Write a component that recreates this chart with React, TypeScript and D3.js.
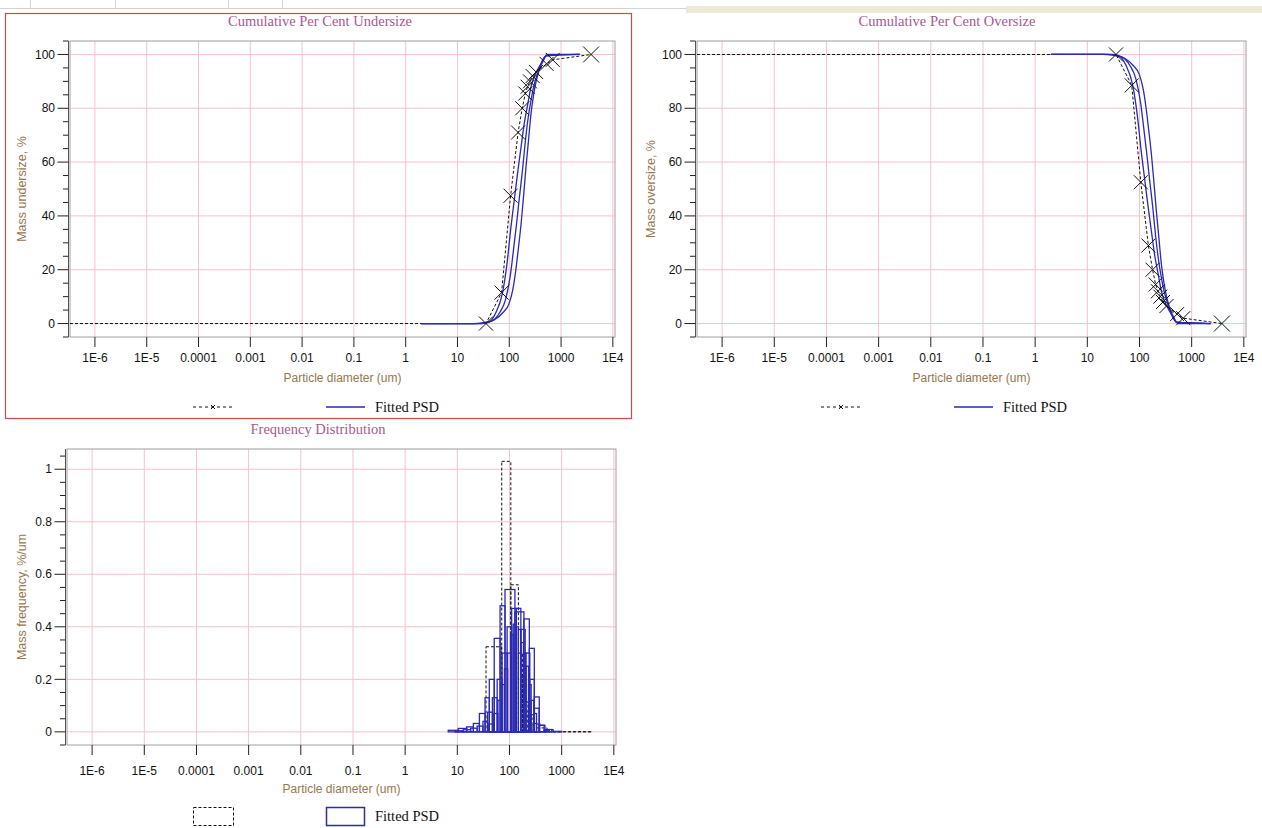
import React from 'react';
import * as d3 from 'd3';

// ---------- axes ----------
const X_DOMAIN = [3.3e-7, 1.1e4];
const X_TICKS = [1e-6, 1e-5, 1e-4, 1e-3, 1e-2, 1e-1, 1, 10, 100, 1000, 1e4];
const X_TICK_LABELS = ['1E-6', '1E-5', '0.0001', '0.001', '0.01', '0.1', '1', '10', '100', '1000', '1E4'];
const CUM_Y_DOMAIN = [-5, 105];
const CUM_Y_TICKS = [0, 20, 40, 60, 80, 100];
const CUM_Y_MINOR = [-5, 5, 10, 15, 25, 30, 35, 45, 50, 55, 65, 70, 75, 85, 90, 95, 105];
const FREQ_Y_DOMAIN = [-0.05, 1.077];
const FREQ_Y_TICKS = [0, 0.2, 0.4, 0.6, 0.8, 1];
const FREQ_Y_LABELS = ['0', '0.2', '0.4', '0.6', '0.8', '1'];
const FREQ_Y_MINOR = [-0.05, 0.05, 0.1, 0.15, 0.25, 0.3, 0.35, 0.45, 0.5, 0.55, 0.65, 0.7, 0.75, 0.85, 0.9, 0.95, 1.05];

// ---------- measured sieve data (um, cumulative % undersize) ----------
const DATA_SIZE = [3.3e-7, 35.5, 71, 106, 148, 178, 204, 226, 251, 282, 329, 525, 690, 3800];
const DATA_UNDERSIZE = [0, 0, 11.5, 47.5, 71, 80, 85.5, 88, 90, 92, 93.5, 96.5, 98, 100];
// data frequency per interval (%/um), between consecutive DATA_SIZE values
const DATA_FREQ = [0, 0.324, 1.03, 0.56, 0.3, 0.21, 0.114, 0.08, 0.065, 0.032, 0.015, 0.009, 0.0006];

// ---------- fitted PSD curves (cumulative % undersize) ----------
const FIT_A_SIZE = [2, 20, 41, 55, 74, 90, 108, 125, 145, 170, 195, 230, 263, 300, 355, 420, 480, 550, 2300];
const FIT_A_U = [0, 0, 0.7, 4, 11.4, 22, 36, 46, 56, 66, 74.5, 82, 88, 91.5, 94.5, 97, 99, 100, 100];
const FIT_B_SIZE = [2, 25, 46, 65, 85, 105, 120, 140, 155, 180, 200, 230, 263, 300, 340, 400, 450, 520, 2300];
const FIT_B_U = [0, 0, 1, 4, 9, 18, 27, 38, 46, 57, 66, 76, 83, 88.5, 92, 95.5, 97.5, 99.5, 100];
const FIT_C_SIZE = [2, 30, 51, 75, 100, 118, 134, 150, 169, 190, 210, 235, 263, 295, 330, 370, 410, 460, 510, 2300];
const FIT_C_U = [0, 0, 1.3, 4, 7.6, 13, 20, 28, 37, 48, 58, 68, 78, 85, 90, 93.5, 96.5, 98.5, 99.5, 100];

// ---------- fitted frequency histograms (%/um) ----------
const HIST_A_EDGES = [6.7, 10.4, 15.1, 20.3, 26.5, 34, 41, 51, 66, 82, 127, 189, 240, 299, 372, 478, 646, 1000];
const HIST_A_H = [0.006, 0.013, 0.019, 0.032, 0.07, 0.13, 0.2, 0.356, 0.48, 0.542, 0.457, 0.43, 0.318, 0.133, 0.025, 0.009, 0.002];
const HIST_B_EDGES = [9, 13, 18, 24, 31, 38, 47, 58, 72, 90, 110, 135, 165, 200, 245, 300, 370, 460, 580];
const HIST_B_H = [0.004, 0.008, 0.014, 0.022, 0.04, 0.075, 0.13, 0.2, 0.3, 0.4, 0.47, 0.47, 0.39, 0.3, 0.2, 0.09, 0.025, 0.006];
const HIST_C_EDGES = [40, 50, 60, 70, 80, 92, 105, 118, 132, 148, 165, 185, 208, 232, 260, 292, 330, 380];
const HIST_C_H = [0.03, 0.07, 0.12, 0.18, 0.24, 0.3, 0.37, 0.41, 0.4, 0.39, 0.34, 0.3, 0.25, 0.18, 0.12, 0.07, 0.03];

const BLUE = '#2a2ab4';
const GRID = '#f3c3cb';
const FRAME = '#a0a0a0';
const TITLE_C = '#a8588e';
const AXIS_TITLE_C = '#94784f';
const SANS = '"Liberation Sans", Arial, sans-serif';
const SERIF = '"Liberation Serif", "Times New Roman", serif';

type Box = { left: number; right: number; top: number; bottom: number };

function Frame({ box, ys, yTicks, yLabels, yMinor, xLabel, yLabel, yLabelX, id, labOff, titleOff, children }: any) {
  const xs = d3.scaleLog().domain(X_DOMAIN).range([box.left, box.right]);
  const ax = box.left - 1.5;
  return (
    <g>
      <defs>
        <clipPath id={id}>
          <rect x={box.left} y={box.top - 8} width={box.right - box.left + 8} height={box.bottom - box.top + 8} />
        </clipPath>
      </defs>
      {X_TICKS.map((t, i) => (
        <line key={'gx' + i} x1={xs(t)} x2={xs(t)} y1={box.top} y2={box.bottom} stroke={GRID} />
      ))}
      {yTicks.map((t: number, i: number) => (
        <line key={'gy' + i} x1={box.left} x2={box.right} y1={ys(t)} y2={ys(t)} stroke={GRID} />
      ))}
      <rect x={box.left} y={box.top} width={box.right - box.left} height={box.bottom - box.top} fill="none" stroke={FRAME} />
      <line x1={ax} x2={ax} y1={box.top} y2={box.bottom} stroke="#555" />
      {yTicks.map((t: number, i: number) => (
        <g key={'yt' + i}>
          <line x1={ax - 11} x2={ax} y1={ys(t)} y2={ys(t)} stroke="#222" />
          <text x={box.left - 15} y={ys(t)} dy="0.35em" textAnchor="end" fontFamily={SANS} fontSize={12} fill="#111">
            {yLabels[i]}
          </text>
        </g>
      ))}
      {yMinor.map((t: number, i: number) => (
        <line key={'ym' + i} x1={ax - 5.5} x2={ax} y1={ys(t)} y2={ys(t)} stroke="#222" />
      ))}
      {X_TICKS.map((t, i) => (
        <g key={'xt' + i}>
          <line x1={xs(t)} x2={xs(t)} y1={box.bottom} y2={box.bottom + 10} stroke="#222" />
          <text x={xs(t)} y={box.bottom + labOff} dy="0.35em" textAnchor="middle" fontFamily={SANS} fontSize={12} fill="#111">
            {X_TICK_LABELS[i]}
          </text>
        </g>
      ))}
      <text x={(box.left + box.right) / 2} y={box.bottom + titleOff} dy="0.35em" textAnchor="middle" fontFamily={SANS} fontSize={12} fill={AXIS_TITLE_C}>
        {xLabel}
      </text>
      <text
        transform={`translate(${yLabelX},${(box.top + box.bottom) / 2}) rotate(-90)`}
        textAnchor="middle"
        dy="0.35em"
        fontFamily={SANS}
        fontSize={12.5}
        fill={AXIS_TITLE_C}
      >
        {yLabel}
      </text>
      <g clipPath={`url(#${id})`}>{children(xs)}</g>
    </g>
  );
}

function XMark({ x, y, r }: { x: number; y: number; r: number }) {
  return <path d={`M${x - r},${y - r}L${x + r},${y + r}M${x - r},${y + r}L${x + r},${y - r}`} stroke="#111" strokeWidth={1} fill="none" />;
}

function CumPanel({ box, oversize, id, yLabel, yLabelX }: { box: Box; oversize: boolean; id: string; yLabel: string; yLabelX: number }) {
  const ys = d3.scaleLinear().domain(CUM_Y_DOMAIN).range([box.bottom, box.top]);
  const val = (u: number) => (oversize ? 100 - u : u);
  const fits = [
    [FIT_A_SIZE, FIT_A_U],
    [FIT_B_SIZE, FIT_B_U],
    [FIT_C_SIZE, FIT_C_U],
  ];
  return (
    <Frame
      box={box}
      ys={ys}
      yTicks={CUM_Y_TICKS}
      yLabels={CUM_Y_TICKS.map(String)}
      yMinor={CUM_Y_MINOR}
      xLabel="Particle diameter (um)"
      yLabel={yLabel}
      yLabelX={yLabelX}
      id={id}
      labOff={21}
      titleOff={41}
    >
      {(xs: any) => {
        const line = d3
          .line<[number, number]>()
          .x((d) => xs(d[0]))
          .y((d) => ys(val(d[1])))
          .curve(d3.curveMonotoneX);
        const dataPts: [number, number][] = DATA_SIZE.map((s, i) => [s, DATA_UNDERSIZE[i]]);
        return (
          <g>
            <path d={d3.line<[number, number]>().x((d) => xs(d[0])).y((d) => ys(val(d[1])))(dataPts) || ''} fill="none" stroke="#111" strokeDasharray="3,2" />
            {fits.map((f, k) => (
              <path key={k} d={line((f[0] as number[]).map((s, i) => [s, (f[1] as number[])[i]])) || ''} fill="none" stroke={BLUE} strokeWidth={1.3} />
            ))}
            {dataPts.slice(1).map((d, i) => (
              <XMark key={i} x={xs(d[0])} y={ys(val(d[1]))} r={i === dataPts.length - 2 ? 8 : 7} />
            ))}
          </g>
        );
      }}
    </Frame>
  );
}

function FreqPanel({ box }: { box: Box }) {
  const ys = d3.scaleLinear().domain(FREQ_Y_DOMAIN).range([box.bottom, box.top]);
  const hists = [
    [HIST_A_EDGES, HIST_A_H],
    [HIST_B_EDGES, HIST_B_H],
    [HIST_C_EDGES, HIST_C_H],
  ];
  return (
    <Frame
      box={box}
      ys={ys}
      yTicks={FREQ_Y_TICKS}
      yLabels={FREQ_Y_LABELS}
      yMinor={FREQ_Y_MINOR}
      xLabel="Particle diameter (um)"
      yLabel="Mass frequency, %/um"
      yLabelX={22}
      id="clipFreq"
      labOff={26}
      titleOff={44}
    >
      {(xs: any) => (
        <g>
          {DATA_FREQ.map((h, i) => (
            <rect
              key={'d' + i}
              x={xs(DATA_SIZE[i])}
              y={ys(h)}
              width={xs(DATA_SIZE[i + 1]) - xs(DATA_SIZE[i])}
              height={ys(0) - ys(h)}
              fill="none"
              stroke="#111"
              strokeDasharray="3,2"
            />
          ))}
          {hists.map((hs, k) =>
            (hs[1] as number[]).map((h, i) => {
              const e = hs[0] as number[];
              return (
                <rect
                  key={k + '-' + i}
                  x={xs(e[i])}
                  y={ys(h)}
                  width={xs(e[i + 1]) - xs(e[i])}
                  height={ys(0) - ys(h)}
                  fill="none"
                  stroke={BLUE}
                  strokeWidth={1.3}
                />
              );
            })
          )}
        </g>
      )}
    </Frame>
  );
}

function LineLegend({ x0, y }: { x0: number; y: number }) {
  return (
    <g>
      <line x1={x0} x2={x0 + 41} y1={y} y2={y} stroke="#111" strokeDasharray="3,3" />
      <path d={`M${x0 + 18},${y - 2}L${x0 + 22},${y + 2}M${x0 + 18},${y + 2}L${x0 + 22},${y - 2}`} stroke="#111" />
      <line x1={x0 + 133} x2={x0 + 172} y1={y} y2={y} stroke={BLUE} strokeWidth={1.5} />
      <text x={x0 + 182} y={y} dy="0.35em" fontFamily={SERIF} fontSize={14.5} fill="#111">
        Fitted PSD
      </text>
    </g>
  );
}

export default function App() {
  const tl: Box = { left: 70, right: 615, top: 41, bottom: 337 };
  const tr: Box = { left: 697, right: 1246, top: 41, bottom: 337 };
  const bt: Box = { left: 67, right: 616, top: 449, bottom: 745 };
  return (
    <div style={{ position: 'fixed', left: 0, top: 0 }}>
      <svg width={1262} height={828} style={{ display: 'block', background: '#fff' }}>
        {/* window strip */}
        <rect x={686} y={6} width={576} height={7} fill="#ece9d8" />
        <line x1={0} x2={686} y1={8.5} y2={8.5} stroke="#d4d4d4" />
        {[30, 115, 228, 282].map((x) => (
          <line key={x} x1={x + 0.5} x2={x + 0.5} y1={0} y2={8} stroke="#d4d4d4" />
        ))}
        <rect x={5.5} y={13.5} width={626} height={405} fill="none" stroke="#d04848" strokeWidth={1.2} />

        <text x={320} y={21} dy="0.35em" textAnchor="middle" fontFamily={SERIF} fontSize={14.5} fill={TITLE_C}>
          Cumulative Per Cent Undersize
        </text>
        <text x={947} y={21} dy="0.35em" textAnchor="middle" fontFamily={SERIF} fontSize={14.5} fill={TITLE_C}>
          Cumulative Per Cent Oversize
        </text>
        <text x={318} y={429} dy="0.35em" textAnchor="middle" fontFamily={SERIF} fontSize={14.5} fill={TITLE_C}>
          Frequency Distribution
        </text>

        <CumPanel box={tl} oversize={false} id="clipTL" yLabel="Mass undersize, %" yLabelX={22} />
        <CumPanel box={tr} oversize={true} id="clipTR" yLabel="Mass oversize, %" yLabelX={651} />
        <FreqPanel box={bt} />

        <LineLegend x0={193} y={407} />
        <LineLegend x0={821} y={407} />

        {/* bottom legend */}
        <rect x={193.5} y={807.5} width={40} height={18} fill="none" stroke="#111" strokeDasharray="3,2" />
        <rect x={326.5} y={807.5} width={38} height={18} fill="none" stroke={BLUE} strokeWidth={1.5} />
        <text x={375} y={816} dy="0.35em" fontFamily={SERIF} fontSize={14.5} fill="#111">
          Fitted PSD
        </text>
      </svg>
    </div>
  );
}
